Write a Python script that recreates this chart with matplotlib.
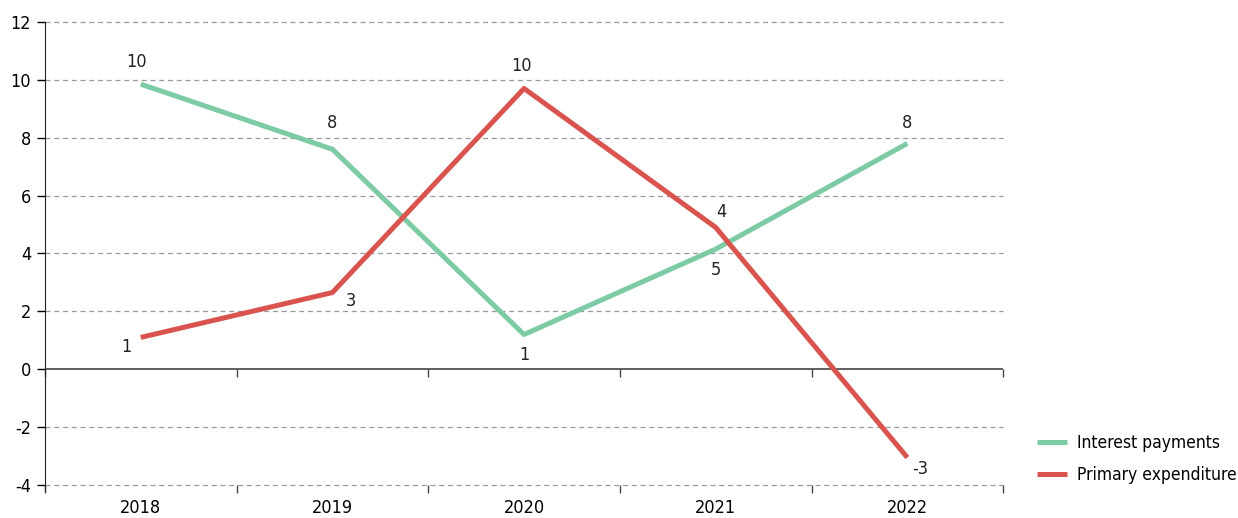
import numpy as np
import matplotlib.pyplot as plt
from matplotlib.ticker import FixedLocator

plt.rcParams['font.family'] = ['DejaVu Sans']
plt.rcParams['font.stretch'] = 'condensed'

# DATA
years = ['2018', '2019', '2020', '2021', '2022']
interest = [9.85, 7.6, 1.2, 4.15, 7.8]
primary = [1.1, 2.65, 9.7, 4.9, -3.05]
interest_labels = ['10', '8', '1', '4', '8']
primary_labels = ['1', '3', '10', '5', '-3']
yticks = [-4, -2, 0, 2, 4, 6, 8, 10, 12]

# label offsets in points (dx, dy)
interest_off = [(-3, 16), (0, 19), (0, -15), (4, 27), (0, 15)]
primary_off = [(-10, -7), (13, -6), (-2, 16), (0, -31), (9, -8)]

green = '#7dcba4'
red = '#d9534f'

fig = plt.figure(figsize=(12.38, 5.18), dpi=100)
ax = fig.add_axes([0.0363, 0.0637, 0.774, 0.894])
x = np.arange(len(years))

ax.plot(x, interest, color=green, lw=3.6, label='Interest payments', solid_capstyle='butt')
ax.plot(x, primary, color=red, lw=3.6, label='Primary expenditure', solid_capstyle='butt')

for xi, v, t, (dx, dy) in zip(x, interest, interest_labels, interest_off):
    ax.annotate(t, (xi, v), xytext=(dx, dy), textcoords='offset points',
                ha='center', va='center', fontsize=13, color='#222222')
for xi, v, t, (dx, dy) in zip(x, primary, primary_labels, primary_off):
    ax.annotate(t, (xi, v), xytext=(dx, dy), textcoords='offset points',
                ha='center', va='center', fontsize=13, color='#222222')

ax.set_xlim(-0.5, len(years) - 0.5)
ax.set_ylim(-4, 12)
ax.set_yticks(yticks)
ax.set_yticklabels([str(t) for t in yticks], fontsize=13)
for t in yticks:
    if t != 0:
        ax.axhline(t, color='#999999', lw=0.9, ls=(0, (4, 3)), zorder=0, clip_on=False)
ax.axhline(0, color='#444444', lw=1.2, zorder=1)

ax.set_xticks(x)
ax.set_xticklabels(years, fontsize=13)
ax.tick_params(axis='x', which='major', length=0, pad=10)
ax.xaxis.set_minor_locator(FixedLocator(np.arange(-0.5, len(years), 1.0)))
ax.tick_params(axis='x', which='minor', length=6, width=1, color='#444444', direction='out')
ax.tick_params(axis='y', length=6, width=1, direction='out', pad=4)

for s in ['top', 'right', 'bottom']:
    ax.spines[s].set_visible(False)
ax.spines['left'].set_color('#222222')
ax.spines['left'].set_bounds(-4.2, 12)

sec = ax.secondary_xaxis(0.25)
sec.set_xticks(np.arange(-0.5, len(years), 1.0))
sec.set_xticklabels([])
sec.tick_params(length=6, width=1, color='#444444', direction='out')
sec.spines['bottom'].set_visible(False)

fig.legend(loc='center left', bbox_to_anchor=(0.8377, 0.114), frameon=False,
           fontsize=12.5, handlelength=1.7, handletextpad=0.6, labelspacing=0.8,
           borderpad=0, borderaxespad=0)

fig.savefig('out.png', dpi=100)
